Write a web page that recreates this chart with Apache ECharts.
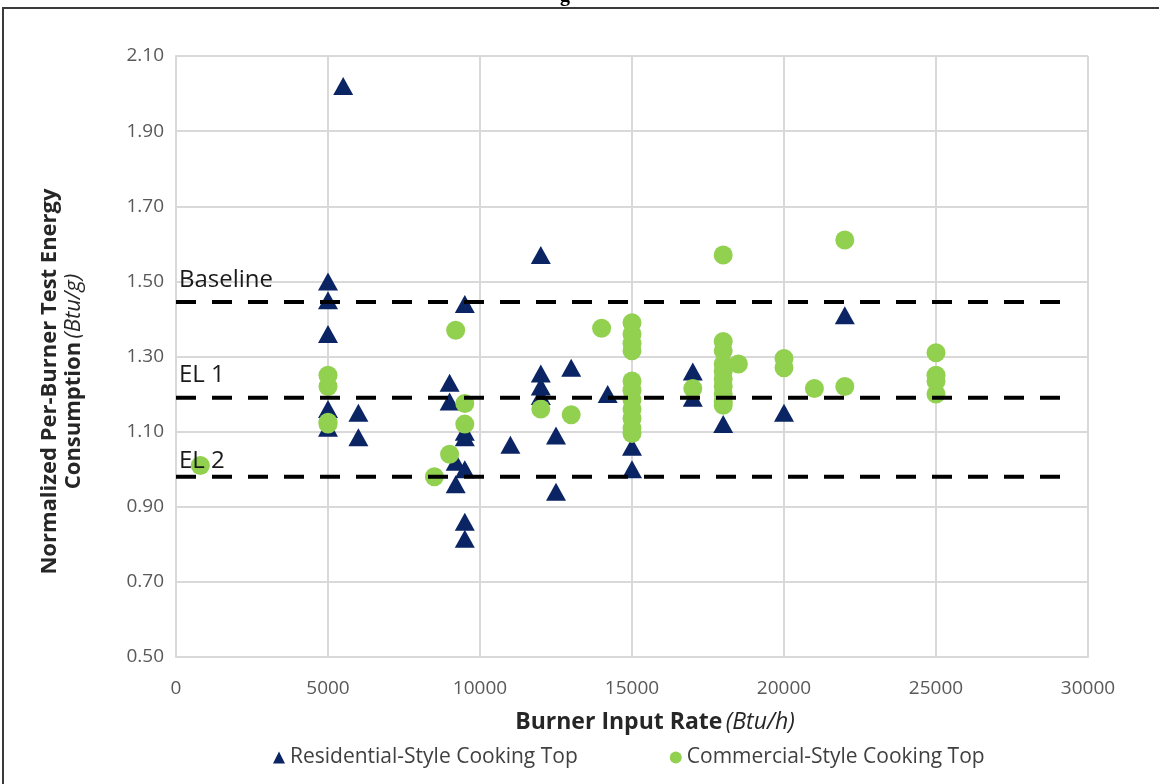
<!DOCTYPE html>
<html><head><meta charset="utf-8">
<script src="https://cdn.jsdelivr.net/npm/echarts@6/dist/echarts.min.js"></script>
<style>html,body{margin:0;padding:0;background:#fff}#c{width:1159px;height:784px}</style>
</head><body><div id="c"></div>
<script>
const resX = [5500,5000,5000,5000,5000,5000,6000,6000,9000,9000,9500,9500,9500,9200,9500,9200,9500,9500,11000,12000,12000,12000,12000,13000,12500,12500,14200,15000,15000,17000,17000,18000,20000,22000];
const resY = [2.02,1.50,1.45,1.36,1.16,1.11,1.15,1.085,1.23,1.18,1.44,1.10,1.085,1.02,1.00,0.96,0.86,0.815,1.065,1.57,1.255,1.22,1.195,1.27,1.09,0.94,1.20,1.06,1.00,1.26,1.19,1.12,1.15,1.41];
const comX = [800,5000,5000,5000,5000,8500,9000,9200,9500,9500,12000,13000,14000,15000,15000,15000,15000,15000,15000,15000,15000,15000,15000,15000,17000,18000,18000,18000,18000,18000,18000,18000,18000,18000,18000,18500,20000,20000,21000,22000,22000,25000,25000,25000,25000];
const comY = [1.01,1.25,1.22,1.125,1.12,0.98,1.04,1.37,1.175,1.12,1.16,1.145,1.375,1.39,1.36,1.335,1.315,1.235,1.21,1.185,1.16,1.135,1.11,1.095,1.215,1.57,1.34,1.315,1.28,1.26,1.24,1.22,1.20,1.18,1.17,1.28,1.295,1.27,1.215,1.61,1.22,1.31,1.25,1.235,1.20];
const levelNames = ['Baseline','EL 1','EL 2'];
const levelValues = [1.445,1.19,0.98];
const levelXRange = [0,29600];
const seriesNames = ['Residential-Style Cooking Top','Commercial-Style Cooking Top'];
const xTitle = 'Burner Input Rate';
const xUnit = '(Btu/h)';
const yTitle1 = 'Normalized Per-Burner Test Energy';
const yTitle2 = 'Consumption';
const yUnit = '(Btu/g)';

const FONT = "'Open Sans','Liberation Sans',sans-serif";
const zip = (xs, ys) => xs.map((x, i) => [x, ys[i]]);
const labelDist = [10, 11, 4];

const levelSeries = levelValues.map((v, i) => ({
  type: 'line', name: levelNames[i], z: 5, silent: true, symbol: 'circle', symbolSize: 0, showSymbol: true,
  lineStyle: {color: '#000', width: 4, type: [20, 16]},
  itemStyle: {color: 'rgba(0,0,0,0)'},
  data: [
    {value: [levelXRange[0], v], label: {show: true, formatter: levelNames[i], position: 'top', align: 'left', distance: labelDist[i], offset: [3, 0], color: '#1a1a1a', fontSize: 24, fontFamily: FONT}},
    {value: [levelXRange[1], v]}
  ]
}));

const chart = echarts.init(document.getElementById('c'), null, {renderer: 'canvas'});
chart.setOption({
  animation: false,
  backgroundColor: '#fff',
  grid: {left: 176, right: 71, top: 56, bottom: 127, containLabel: false},
  graphic: [
    {type: 'rect', shape: {x: 3, y: 8, width: 1200, height: 820}, style: {fill: 'none', stroke: '#3a3a3a', lineWidth: 2}, z: 0},
    {type: 'text', x: 565, y: -14, style: {text: 'g', font: 'bold 20px "Liberation Serif", serif', fill: '#000', textAlign: 'center'}}
  ],
  legend: {
    bottom: 11, left: 268, itemGap: 92, itemWidth: 12, itemHeight: 12,
    data: [{name: seriesNames[0], icon: 'triangle'}, {name: seriesNames[1], icon: 'circle'}],
    textStyle: {color: '#404040', fontSize: 21, fontFamily: FONT}
  },
  xAxis: {
    type: 'value', min: 0, max: 30000, interval: 5000,
    name: '{b|' + xTitle + '} {i|' + xUnit + '}', nameLocation: 'middle', nameGap: 54,
    nameTextStyle: {padding: [0, 0, 0, 46], rich: {
      b: {fontWeight: 'bold', fontSize: 23, color: '#262626', fontFamily: FONT},
      i: {fontStyle: 'italic', fontSize: 23, color: '#262626', fontFamily: FONT}
    }},
    axisLine: {show: true, lineStyle: {color: '#d9d9d9', width: 2}},
    axisTick: {show: false},
    axisLabel: {color: '#595959', fontSize: 19, fontFamily: FONT, margin: 22, formatter: v => String(v)},
    splitLine: {show: true, lineStyle: {color: '#d9d9d9', width: 2}}
  },
  yAxis: {
    type: 'value', min: 0.5, max: 2.1, interval: 0.2,
    name: '{b|' + yTitle1 + '}\n{b|' + yTitle2 + '} {i|' + yUnit + '}', nameLocation: 'middle', nameGap: 90, nameRotate: 90,
    nameTextStyle: {lineHeight: 24, padding: [0, 50, 0, 0], rich: {
      b: {fontWeight: 'bold', fontSize: 22, color: '#262626', fontFamily: FONT, lineHeight: 24},
      i: {fontStyle: 'italic', fontSize: 22, color: '#262626', fontFamily: FONT, lineHeight: 24}
    }},
    axisLine: {show: true, lineStyle: {color: '#d9d9d9', width: 2}},
    axisTick: {show: false},
    axisLabel: {color: '#595959', fontSize: 19, fontFamily: FONT, margin: 12, formatter: v => v.toFixed(2)},
    splitLine: {show: true, lineStyle: {color: '#d9d9d9', width: 2}}
  },
  series: [
    {type: 'scatter', name: seriesNames[0], symbol: 'triangle', symbolSize: [20, 18], z: 2,
     itemStyle: {color: '#0a2464', opacity: 1}, data: zip(resX, resY)},
    {type: 'scatter', name: seriesNames[1], symbol: 'circle', symbolSize: 19, z: 3,
     itemStyle: {color: '#92d050', opacity: 1}, data: zip(comX, comY)}
  ].concat(levelSeries)
});
</script></body></html>
